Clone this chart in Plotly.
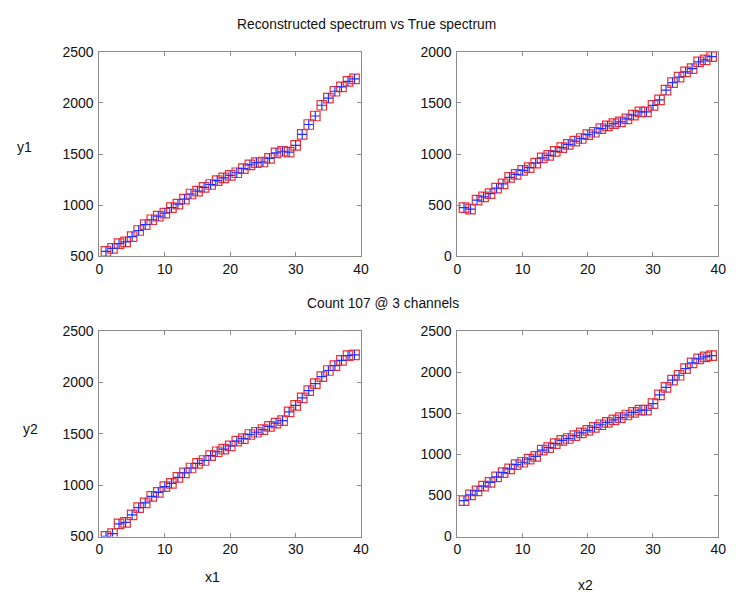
import plotly.graph_objects as go

# ---- data ----
channels = list(range(1, 40))

true_y1 = [548, 577, 624, 640, 691, 752, 809, 857, 892, 921, 975, 1010, 1058, 1109, 1138,
           1173, 1202, 1240, 1266, 1291, 1317, 1358, 1393, 1416, 1422, 1457, 1511, 1527, 1518,
           1585, 1693, 1789, 1872, 1977, 2047, 2114, 2156, 2210, 2235]
true_y2 = [476, 460, 549, 581, 613, 667, 708, 771, 800, 841, 867, 911, 962, 987, 1025,
           1063, 1095, 1127, 1152, 1190, 1213, 1248, 1276, 1298, 1314, 1343, 1381, 1413, 1413,
           1476, 1530, 1625, 1698, 1752, 1803, 1835, 1902, 1921, 1952]
true_y3 = [503, 528, 623, 639, 712, 782, 829, 892, 930, 987, 1019, 1076, 1120, 1168, 1212,
           1241, 1288, 1326, 1351, 1383, 1430, 1453, 1494, 1516, 1541, 1573, 1604, 1630, 1715,
           1778, 1851, 1921, 1990, 2057, 2117, 2165, 2215, 2263, 2269]
true_y4 = [437, 508, 556, 615, 659, 726, 778, 825, 877, 905, 944, 976, 1052, 1083, 1131,
           1171, 1194, 1230, 1262, 1294, 1329, 1361, 1389, 1421, 1448, 1480, 1512, 1540, 1540,
           1619, 1726, 1817, 1905, 1964, 2044, 2115, 2163, 2187, 2202]

# reconstructed values (visually indistinguishable from the true ones)
recon_y1 = list(true_y1)
recon_y2 = list(true_y2)
recon_y3 = list(true_y3)
recon_y4 = list(true_y4)

y_ranges = [(500, 2500), (0, 2000), (500, 2500), (0, 2500)]
y_dtick = [500, 500, 500, 500]

title_text = "Reconstructed spectrum vs True spectrum"
sub_text = "Count 107 @ 3 channels"

W, H = 736, 603
boxes = [  # left, right, top, bottom in pixels
    (97, 363, 45, 255),
    (461, 726, 45, 255),
    (97, 363, 332, 543),
    (461, 726, 332, 543),
]

fig = go.Figure()
font_family = "Liberation Sans, Arial, sans-serif"
axis_color = "#8c8c8c"

trues = [true_y1, true_y2, true_y3, true_y4]
recons = [recon_y1, recon_y2, recon_y3, recon_y4]

for i in range(4):
    n = "" if i == 0 else str(i + 1)
    l, r, t, b = boxes[i]
    fig.add_trace(go.Scatter(
        x=channels, y=trues[i], mode="markers", xaxis="x" + n, yaxis="y" + n,
        marker=dict(symbol="square-open", size=9.5, color="#f03030", line=dict(width=1.2)),
        showlegend=False, hoverinfo="skip"))
    fig.add_trace(go.Scatter(
        x=channels, y=recons[i], mode="markers", xaxis="x" + n, yaxis="y" + n,
        marker=dict(symbol="cross-thin-open", size=7, color="#2030ff", line=dict(width=1.2, color="#2030ff")),
        showlegend=False, hoverinfo="skip"))
    common = dict(showgrid=False, zeroline=False, showline=True, linecolor=axis_color,
                  linewidth=1, mirror="ticks", ticks="inside", ticklen=4,
                  tickcolor=axis_color, tickfont=dict(family=font_family, size=14, color="#111"))
    fig.layout["xaxis" + n] = dict(common, domain=[l / W, r / W], range=[0, 40], dtick=10,
                                   anchor="y" + n, tick0=0)
    fig.layout["yaxis" + n] = dict(common, domain=[1 - b / H, 1 - t / H], range=list(y_ranges[i]),
                                   dtick=y_dtick[i], anchor="x" + n, ticklabelstandoff=2)

annots = [
    (title_text, 368, 17, 13.8),
    (sub_text, 385, 304, 13.8),
    ("y1", 21, 143, 14),
    ("y2", 27, 432, 14),
    ("x1", 212, 585, 14),
    ("x2", 591, 593, 14),
]
for txt, x, y, s in annots:
    fig.add_annotation(text=txt, x=x / W, y=1 - y / H, xref="paper", yref="paper",
                       showarrow=False, xanchor="center", yanchor="middle",
                       font=dict(family=font_family, size=s, color="#111"))

fig.update_layout(width=W, height=H, margin=dict(l=0, r=0, t=0, b=0),
                  paper_bgcolor="white", plot_bgcolor="white")
fig.write_html("out.html")
